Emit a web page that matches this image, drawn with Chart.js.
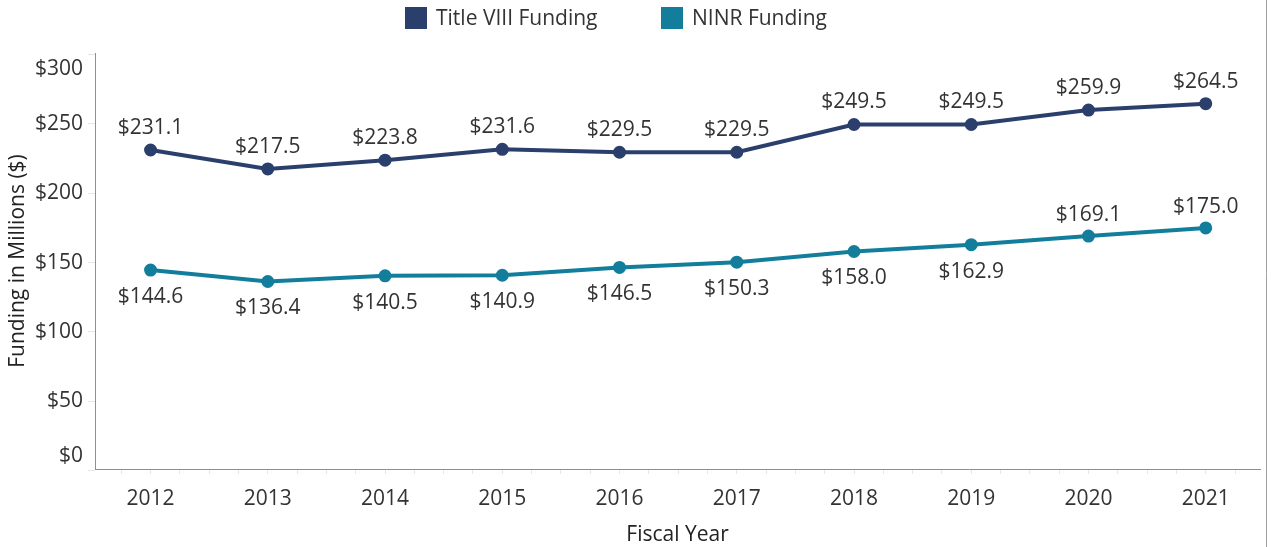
<!DOCTYPE html>
<html>
<head>
<meta charset="utf-8">
<script src="https://cdn.jsdelivr.net/npm/chart.js@4.4.1/dist/chart.umd.min.js"></script>
<style>
  html, body { margin: 0; padding: 0; background: #ffffff; }
  #wrap { width: 1271px; height: 547px; }
</style>
</head>
<body>
<div id="wrap"><canvas id="c" width="1271" height="547"></canvas></div>
<script>
// ---- data ----
const years = [2012, 2013, 2014, 2015, 2016, 2017, 2018, 2019, 2020, 2021];
const titleVIII = [231.1, 217.5, 223.8, 231.6, 229.5, 229.5, 249.5, 249.5, 259.9, 264.5];
const ninr = [144.6, 136.4, 140.5, 140.9, 146.5, 150.3, 158.0, 162.9, 169.1, 175.0];
const yTickValues = [0, 50, 100, 150, 200, 250, 300];
const seriesNames = ['Title VIII Funding', 'NINR Funding'];
const seriesColors = ['#2b3f6d', '#137e9b'];

const FONT = "'Open Sans', 'Noto Sans', sans-serif";
const TEXT = '#333333';
const AXIS = '#8f8f8f';

const fmt = v => '$' + v.toFixed(1);

const labelPlugin = {
  id: 'labels',
  afterDatasetsDraw(chart) {
    const ctx = chart.ctx;
    ctx.save();
    ctx.font = '21px ' + FONT;
    ctx.fillStyle = TEXT;
    ctx.textAlign = 'center';
    ctx.textBaseline = 'middle';
    chart.data.datasets.forEach((ds, di) => {
      const meta = chart.getDatasetMeta(di);
      meta.data.forEach((el, i) => {
        const v = ds.data[i].y;
        let dy;
        if (di === 0) dy = -22;
        else dy = (i >= years.length - 2) ? -21 : 27;
        ctx.fillText(fmt(v), el.x, el.y + dy);
      });
    });
    ctx.restore();
  },
  afterDraw(chart) {
    const ctx = chart.ctx;
    const area = chart.chartArea;
    const ys = chart.scales.y;
    ctx.save();
    // y tick labels (kept inside the axis span)
    ctx.font = '21px ' + FONT;
    ctx.fillStyle = TEXT;
    ctx.textAlign = 'right';
    ctx.textBaseline = 'middle';
    yTickValues.forEach(v => {
      let py = ys.getPixelForValue(v);
      py = Math.max(area.top + 16, Math.min(area.bottom - 13, py));
      ctx.fillText('$' + v, 83, py);
    });
    // legend
    ctx.font = '21px ' + FONT;
    ctx.textAlign = 'left';
    const sw = 22, gap = 9;
    const starts = [405, 661];
    const top = 7;
    [0, 1].forEach(k => {
      ctx.fillStyle = seriesColors[k];
      ctx.fillRect(starts[k], top, sw, sw);
      ctx.fillStyle = TEXT;
      ctx.fillText(seriesNames[k], starts[k] + sw + gap, top + sw / 2 + 1);
    });
    // right border line
    ctx.strokeStyle = '#a0a0a0';
    ctx.lineWidth = 1;
    ctx.beginPath();
    ctx.moveTo(1266.5, 0);
    ctx.lineTo(1266.5, 547);
    ctx.stroke();
    ctx.restore();
  }
};

const mk = arr => years.map((yr, i) => ({ x: yr, y: arr[i] }));

new Chart(document.getElementById('c'), {
  type: 'line',
  data: {
    datasets: [
      { label: seriesNames[0], data: mk(titleVIII), borderColor: seriesColors[0], backgroundColor: seriesColors[0],
        borderWidth: 4, pointRadius: 4.5, pointHoverRadius: 4.5, tension: 0 },
      { label: seriesNames[1], data: mk(ninr), borderColor: seriesColors[1], backgroundColor: seriesColors[1],
        borderWidth: 4, pointRadius: 4.5, pointHoverRadius: 4.5, tension: 0 }
    ]
  },
  options: {
    responsive: false,
    animation: false,
    devicePixelRatio: 1,
    layout: { padding: { top: 53, right: 11, left: 0, bottom: 0 } },
    plugins: { legend: { display: false }, tooltip: { enabled: false } },
    scales: {
      x: {
        type: 'linear',
        min: 2011.526,
        max: 2021.463,
        afterBuildTicks: s => {
          const t = [];
          for (let v = 2011.75; v <= 2021.25; v += 0.25) t.push({ value: v });
          s.ticks = t;
        },
        afterFit: s => { s.height = 78; },
        border: { display: true, color: AXIS, width: 1 },
        grid: { drawOnChartArea: false, drawTicks: true, tickLength: 5, color: '#e6e6e6' },
        ticks: {
          autoSkip: false, maxRotation: 0, minRotation: 0, padding: 12,
          color: TEXT, font: { family: FONT, size: 21 },
          callback: v => Number.isInteger(v) ? String(v) : ''
        },
        title: { display: true, text: 'Fiscal Year', color: '#222222',
          font: { family: FONT, size: 21, lineHeight: 1.1 }, padding: { top: 0, bottom: 0 } }
      },
      y: {
        type: 'linear',
        min: 1.3,
        max: 301.0,
        afterBuildTicks: s => { s.ticks = yTickValues.map(v => ({ value: v })); },
        afterFit: s => { s.width = 95; },
        border: { display: true, color: AXIS, width: 1 },
        grid: { drawOnChartArea: false, drawTicks: true, tickLength: 7, color: '#e6e6e6' },
        ticks: { display: false },
        title: { display: true, text: 'Funding in Millions ($)', color: '#222222',
          font: { family: FONT, size: 21 }, padding: { top: 5, bottom: 0 } }
      }
    }
  },
  plugins: [labelPlugin]
});
</script>
</body>
</html>
